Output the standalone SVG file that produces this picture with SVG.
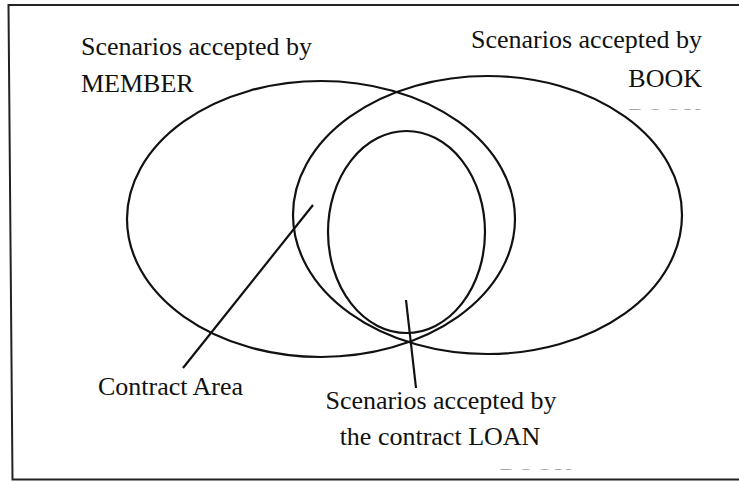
<svg xmlns="http://www.w3.org/2000/svg" width="739" height="481" viewBox="0 0 739 481">
<style>
.set{fill:none;stroke:#111;stroke-width:2.2}
.lbl{font-family:"Liberation Serif","Times New Roman",serif;font-size:26px;fill:#111}
.ghost{font-family:"Liberation Serif","Times New Roman",serif;font-size:26px;fill:#555}
.conn{stroke:#111;stroke-width:2.2;fill:none}
</style>
<defs>
<clipPath id="clipTop"><rect x="600" y="106.5" width="139" height="3"/></clipPath>
<clipPath id="clipBot"><rect x="480" y="466.5" width="120" height="3"/></clipPath>
</defs>
<rect x="0" y="0" width="739" height="481" fill="#fff"/>
<path d="M739 5 L8.5 5 L12.5 479.5 L739 479.5" fill="none" stroke="#222" stroke-width="2"/>
<g id="member">
<ellipse class="set" cx="321" cy="219" rx="194" ry="138"/>
<text class="lbl" x="81" y="55">Scenarios accepted by</text>
<text class="lbl" x="81" y="92">MEMBER</text>
</g>
<g id="book">
<ellipse class="set" cx="487.5" cy="215" rx="194.5" ry="139"/>
<text class="lbl" x="702" y="48" text-anchor="end">Scenarios accepted by</text>
<text class="lbl" x="702" y="87" text-anchor="end">BOOK</text>
<text class="ghost" x="702" y="125.5" text-anchor="end" clip-path="url(#clipTop)">BOOK</text>
</g>
<g id="loan">
<ellipse class="set" cx="406.5" cy="232" rx="78.5" ry="101"/>
<text class="lbl" x="441" y="409" text-anchor="middle">Scenarios accepted by</text>
<text class="lbl" x="440" y="445" text-anchor="middle">the contract LOAN</text>
<text class="ghost" x="536" y="485.5" text-anchor="middle" clip-path="url(#clipBot)">BOOK</text>
</g>
<g id="contract-area">
<text class="lbl" x="98" y="395">Contract Area</text>
</g>
<g id="connectors">
<line class="conn" x1="313" y1="205" x2="183" y2="368"/>
<line class="conn" x1="406" y1="300" x2="416" y2="388"/>
</g>
</svg>
